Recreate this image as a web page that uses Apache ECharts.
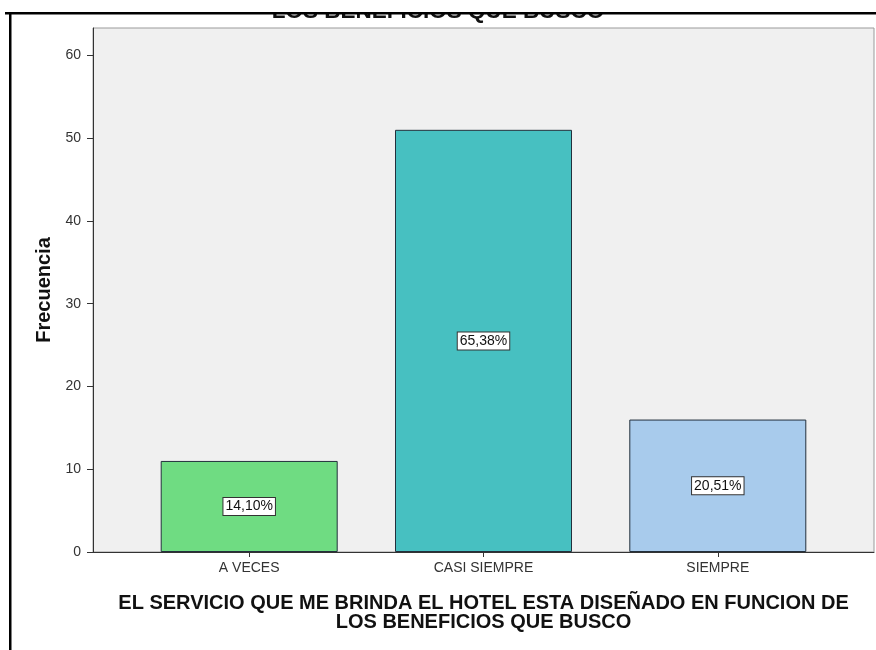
<!DOCTYPE html>
<html>
<head>
<meta charset="utf-8">
<script src="https://cdn.jsdelivr.net/npm/echarts@6/dist/echarts.min.js"></script>
<style>
  html, body { margin: 0; padding: 0; background: #fff; }
  #main { width: 876px; height: 650px; }
</style>
</head>
<body>
<div id="main"></div>
<script>
// categorias y frecuencias
const categories = ['A VECES', 'CASI SIEMPRE', 'SIEMPRE'];
const positions = [1, 2, 3];
const frequencies = [11, 51, 16];
const yTicks = [0, 10, 20, 30, 40, 50, 60];
const barColors = ['#6fdc82', '#47c0c1', '#a8cbec'];

const total = frequencies.reduce((a, b) => a + b, 0);
const font = '"Liberation Sans", Arial, sans-serif';

let chart = echarts.init(document.getElementById('main'), null, { renderer: 'canvas' });

let barData = frequencies.map(function (v, i) {
  return {
    value: [positions[i], v],
    itemStyle: { color: barColors[i] }
  };
});

const option = {
  backgroundColor: '#fff',
  animation: false,
  grid: {
    left: 93,
    top: 28,
    right: 2,
    bottom: 98,
    show: true,
    backgroundColor: '#f0f0f0',
    borderColor: '#9a9a9a',
    borderWidth: 1
  },
  xAxis: {
    type: 'value',
    min: 1 / 3,
    max: 11 / 3,
    splitLine: { show: false },
    axisLine: { show: true, onZero: false, lineStyle: { color: '#333', width: 1 } },
    axisTick: { show: true, length: 5, lineStyle: { color: '#333' }, customValues: positions },
    axisLabel: {
      customValues: positions,
      formatter: function (v) { return categories[Math.round(v) - 1] || ''; },
      color: '#333',
      fontFamily: font,
      fontSize: 14,
      margin: 9
    },
    name: 'EL SERVICIO QUE ME BRINDA EL HOTEL ESTA DISEÑADO EN FUNCION DE\nLOS BENEFICIOS QUE BUSCO',
    nameLocation: 'middle',
    nameGap: 42,
    nameTextStyle: {
      color: '#111',
      fontFamily: font,
      fontWeight: 'bold',
      fontSize: 20,
      lineHeight: 19,
      verticalAlign: 'top'
    }
  },
  yAxis: {
    type: 'value',
    min: 0,
    max: 63.3,
    splitLine: { show: false },
    axisLine: { show: true, lineStyle: { color: '#333', width: 1 } },
    axisTick: { show: true, length: 6, lineStyle: { color: '#333' }, customValues: yTicks },
    axisLabel: {
      customValues: yTicks,
      color: '#333',
      fontFamily: font,
      fontSize: 14,
      margin: 12
    },
    name: 'Frecuencia',
    nameLocation: 'middle',
    nameGap: 39,
    nameTextStyle: {
      color: '#111',
      fontFamily: font,
      fontWeight: 'bold',
      fontSize: 20
    }
  },
  series: [{
    type: 'bar',
    data: barData,
    barWidth: 177,
    itemStyle: { borderColor: '#23303c', borderWidth: 1 },
    label: {
      show: true,
      position: 'inside',
      formatter: function (p) {
        return (p.value[1] / total * 100).toFixed(2).replace('.', ',') + '%';
      },
      color: '#111',
      fontFamily: font,
      fontSize: 14,
      backgroundColor: '#fff',
      borderColor: '#333',
      borderWidth: 1,
      padding: [2, 2, 1, 2]
    }
  }],
  graphic: [
    {
      // titulo superior recortado por el marco
      type: 'text',
      left: 'center',
      top: 0,
      z: 10,
      style: {
        text: 'LOS BENEFICIOS QUE BUSCO',
        font: 'bold 22.5px ' + font,
        fill: '#111'
      }
    },
    {
      type: 'rect',
      z: 11,
      shape: { x: 0, y: 0, width: 876, height: 13 },
      style: { fill: '#fff' }
    },
    {
      type: 'rect',
      z: 12,
      shape: { x: 5, y: 12, width: 871, height: 2.5 },
      style: { fill: '#000' }
    },
    {
      type: 'rect',
      z: 12,
      shape: { x: 9, y: 12, width: 2.5, height: 638 },
      style: { fill: '#000' }
    }
  ]
};

chart.setOption(option);
</script>
</body>
</html>
